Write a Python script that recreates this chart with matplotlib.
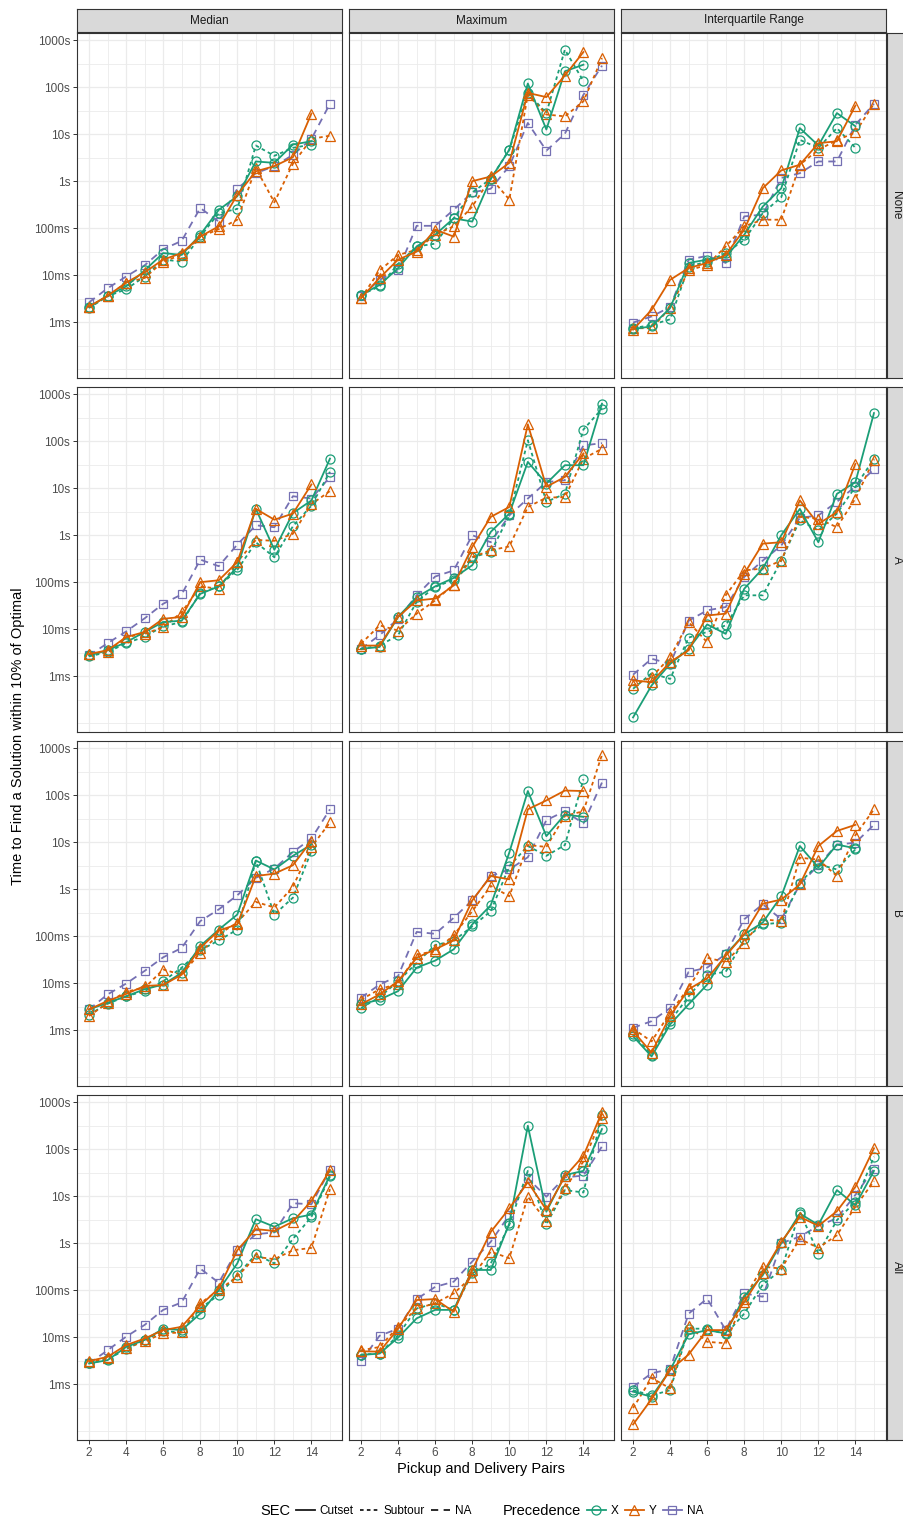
import numpy as np
import matplotlib
matplotlib.use('Agg')
import matplotlib.pyplot as plt
from matplotlib.lines import Line2D
from matplotlib.ticker import FixedLocator, NullFormatter

plt.rcParams['font.family'] = ['Liberation Sans', 'DejaVu Sans']

nan = np.nan

# x axis: number of pickup and delivery pairs
pairs = list(range(2, 16))
stats = ['Median', 'Maximum', 'Interquartile Range']
pruning = ['None', 'A', 'B', 'All']
y_tick_values = [1e-3, 1e-2, 1e-1, 1, 10, 100, 1000]
y_tick_labels = ['1ms', '10ms', '100ms', '1s', '10s', '100s', '1000s']
x_tick_values = [2, 4, 6, 8, 10, 12, 14]

# values are log10(seconds), x = 2..15
# SEC / Precedence: cut_x = Cutset/X, sub_x = Subtour/X, cut_y = Cutset/Y,
# sub_y = Subtour/Y, na = NA/NA

# --- pruning None ---
none_med_cut_x = [-2.68, -2.44, -2.24, -1.9, -1.53, -1.57, -1.14, -0.61, -0.32, 0.42, 0.39, 0.78, 0.85, nan]
none_med_sub_x = [-2.7, -2.45, -2.3, -2.03, -1.67, -1.71, -1.18, -0.68, -0.59, 0.76, 0.54, 0.71, 0.78, nan]
none_med_cut_y = [-2.67, -2.44, -2.16, -1.94, -1.67, -1.53, -1.18, -0.96, -0.29, 0.21, 0.32, 0.51, 1.44, nan]
none_med_sub_y = [-2.67, -2.45, -2.16, -2.06, -1.71, -1.57, -1.19, -1.02, -0.82, 0.28, -0.45, 0.37, 0.9, 0.97]
none_med_na = [-2.58, -2.28, -2.03, -1.79, -1.45, -1.27, -0.57, -0.86, -0.16, 0.17, 0.32, 0.56, 0.9, 1.65]

none_max_cut_x = [-2.42, -2.21, -1.85, -1.39, -1.14, -0.79, -0.86, 0.05, 0.67, 2.08, 1.1, 2.34, 2.48, nan]
none_max_sub_x = [-2.42, -2.24, -1.76, -1.39, -1.33, -0.79, -0.24, 0.05, 0.67, 1.88, 1.45, 2.8, 2.13, nan]
none_max_cut_y = [-2.49, -2.06, -1.67, -1.5, -1.03, -1.18, 0.0, 0.1, 0.39, 1.88, 1.79, 2.25, 2.75, nan]
none_max_sub_y = [-2.49, -1.9, -1.57, -1.46, -1.14, -0.96, -0.54, 0.07, -0.39, 1.84, 1.42, 1.38, 1.7, 2.62]
none_max_na = [-2.45, -2.1, -1.9, -0.95, -0.95, -0.61, -0.24, -0.16, 0.32, 1.24, 0.65, 1.01, 1.84, 2.46]

none_iqr_cut_x = [-3.15, -3.09, -2.7, -1.74, -1.67, -1.62, -1.14, -0.54, -0.15, 1.13, 0.76, 1.45, 1.17, nan]
none_iqr_sub_x = [-3.13, -3.06, -2.94, -1.82, -1.71, -1.53, -1.25, -0.68, -0.34, 0.88, 0.71, 1.13, 0.71, nan]
none_iqr_cut_y = [-3.16, -2.74, -2.1, -1.85, -1.74, -1.57, -1.03, -0.15, 0.23, 0.35, 0.81, 0.85, 1.61, nan]
none_iqr_sub_y = [-3.13, -3.13, -2.7, -1.9, -1.78, -1.39, -0.96, -0.82, -0.82, 0.35, 0.67, 0.87, 1.04, 1.65]
none_iqr_na = [-3.01, -2.88, -2.68, -1.67, -1.59, -1.74, -0.75, -0.71, 0.07, 0.17, 0.42, 0.42, 1.2, 1.65]

# --- pruning A ---
a_med_cut_x = [-2.56, -2.45, -2.28, -2.06, -1.85, -1.82, -1.25, -1.09, -0.68, 0.56, -0.31, 0.47, 0.74, 1.63]
a_med_sub_x = [-2.58, -2.49, -2.3, -2.16, -1.94, -1.85, -1.23, -1.09, -0.74, -0.15, -0.47, 0.19, 0.63, 1.35]
a_med_cut_y = [-2.53, -2.45, -2.17, -2.06, -1.78, -1.74, -1.0, -0.96, -0.57, 0.56, 0.33, 0.46, 1.08, nan]
a_med_sub_y = [-2.53, -2.49, -2.17, -2.1, -1.96, -1.64, -1.09, -1.14, -0.57, -0.1, -0.12, 0.03, 0.66, 0.94]
a_med_na = [-2.56, -2.3, -2.05, -1.77, -1.46, -1.26, -0.52, -0.66, -0.2, 0.21, 0.17, 0.83, 0.78, 1.24]

a_max_cut_x = [-2.42, -2.38, -1.74, -1.32, -1.09, -0.91, -0.64, 0.07, 0.46, 1.56, 1.1, 1.49, 1.49, 2.8]
a_max_sub_x = [-2.42, -2.35, -2.13, -1.42, -1.1, -0.95, -0.47, -0.36, 0.42, 2.02, 0.71, 0.88, 2.25, 2.69]
a_max_cut_y = [-2.35, -2.35, -1.74, -1.39, -1.35, -1.07, -0.25, 0.39, 0.6, 2.36, 1.03, 1.24, 1.74, nan]
a_max_sub_y = [-2.31, -1.92, -2.03, -1.67, -1.39, -1.05, -0.47, -0.32, -0.24, 0.6, 0.8, 0.81, 1.63, 1.84]
a_max_na = [-2.42, -2.13, -1.78, -1.28, -0.88, -0.75, 0.0, -0.15, 0.42, 0.78, 1.13, 1.17, 1.91, 1.96]

a_iqr_cut_x = [-3.88, -3.2, -2.74, -2.42, -1.9, -2.1, -1.14, -0.71, 0.0, 0.56, -0.15, 0.88, 1.13, 2.6]
a_iqr_sub_x = [-3.27, -2.94, -3.06, -2.18, -2.06, -1.92, -1.28, -1.28, -0.54, 0.32, 0.1, 0.46, 1.03, 1.63]
a_iqr_cut_y = [-3.09, -3.13, -2.7, -2.45, -1.71, -1.67, -0.82, -0.18, -0.15, 0.74, 0.24, 0.49, 1.52, nan]
a_iqr_sub_y = [-3.2, -3.02, -2.6, -1.85, -2.28, -1.28, -0.75, -0.71, -0.54, 0.39, 0.35, 0.17, 0.78, 1.61]
a_iqr_na = [-2.97, -2.63, -2.74, -1.82, -1.6, -1.53, -0.89, -0.54, -0.22, 0.37, 0.42, 0.71, 1.04, 1.4]

# --- pruning B ---
b_med_cut_x = [-2.56, -2.42, -2.28, -2.13, -2.03, -1.78, -1.21, -0.86, -0.54, 0.61, 0.42, 0.71, 0.95, nan]
b_med_sub_x = [-2.67, -2.44, -2.28, -2.17, -1.96, -1.67, -1.3, -1.09, -0.86, 0.6, -0.54, -0.18, 0.81, nan]
b_med_cut_y = [-2.56, -2.38, -2.23, -2.06, -2.04, -1.82, -1.25, -0.88, -0.75, 0.28, 0.33, 0.51, 1.03, nan]
b_med_sub_y = [-2.7, -2.42, -2.18, -2.1, -1.71, -1.82, -1.35, -0.96, -0.71, -0.27, -0.39, 0.05, 0.9, 1.42]
b_med_na = [-2.56, -2.24, -2.01, -1.74, -1.45, -1.25, -0.68, -0.43, -0.13, 0.24, 0.44, 0.79, 1.08, 1.7]

b_max_cut_x = [-2.45, -2.35, -2.17, -1.67, -1.52, -1.28, -0.75, -0.34, 0.78, 2.09, 1.13, 1.59, 1.54, nan]
b_max_sub_x = [-2.53, -2.3, -1.96, -1.57, -1.19, -1.1, -0.79, -0.47, 0.49, 0.92, 0.71, 0.94, 2.34, nan]
b_max_cut_y = [-2.45, -2.24, -1.96, -1.46, -1.28, -1.09, -0.24, 0.28, 0.21, 1.7, 1.89, 2.1, 2.09, nan]
b_max_sub_y = [-2.35, -2.13, -2.01, -1.39, -1.32, -0.98, -0.47, 0.07, -0.15, 0.94, 0.9, 1.56, 1.66, 2.86]
b_max_na = [-2.31, -2.03, -1.85, -0.91, -0.95, -0.61, -0.24, 0.28, 0.42, 0.68, 1.47, 1.66, 1.4, 2.27]

b_iqr_cut_x = [-3.13, -3.56, -2.88, -2.45, -2.03, -1.39, -0.96, -0.71, -0.15, 0.92, 0.46, 0.95, 0.87, nan]
b_iqr_sub_x = [-3.09, -3.52, -2.81, -2.28, -1.82, -1.76, -1.07, -0.75, -0.71, 0.14, 0.53, 0.42, 0.85, nan]
b_iqr_cut_y = [-3.02, -3.48, -2.7, -2.13, -1.9, -1.42, -0.96, -0.31, -0.22, 0.1, 0.92, 1.24, 1.37, nan]
b_iqr_sub_y = [-2.97, -3.24, -2.63, -2.1, -1.46, -1.55, -1.14, -0.64, -0.68, 0.67, 0.63, 0.28, 1.15, 1.7]
b_iqr_na = [-2.95, -2.81, -2.53, -1.76, -1.67, -1.38, -0.64, -0.32, -0.64, 0.1, 0.51, 0.95, 0.99, 1.37]

# --- pruning All ---
all_med_cut_x = [-2.56, -2.49, -2.21, -2.06, -1.82, -1.85, -1.5, -1.0, -0.43, 0.51, 0.35, 0.53, 0.61, 1.45]
all_med_sub_x = [-2.56, -2.47, -2.26, -2.06, -1.87, -1.9, -1.39, -1.1, -0.68, -0.24, -0.43, 0.09, 0.56, 1.42]
all_med_cut_y = [-2.51, -2.42, -2.17, -2.03, -1.85, -1.78, -1.33, -0.96, -0.15, 0.3, 0.26, 0.46, 0.9, 1.56]
all_med_sub_y = [-2.53, -2.45, -2.23, -2.09, -1.92, -1.9, -1.28, -1.0, -0.71, -0.29, -0.34, -0.15, -0.1, 1.15]
all_med_na = [-2.56, -2.28, -1.99, -1.74, -1.42, -1.26, -0.54, -0.84, -0.15, 0.19, 0.23, 0.85, 0.83, 1.56]

all_max_cut_x = [-2.38, -2.35, -2.01, -1.6, -1.42, -1.42, -0.57, -0.57, 0.42, 2.5, 0.67, 1.45, 1.54, 2.43]
all_max_sub_x = [-2.37, -2.35, -1.96, -1.39, -1.28, -1.42, -0.64, -0.43, 0.39, 1.54, 0.4, 1.13, 1.08, 2.73]
all_max_cut_y = [-2.3, -2.31, -1.82, -1.21, -1.19, -1.46, -0.57, 0.24, 0.74, 1.3, 0.71, 1.42, 1.86, 2.79]
all_max_sub_y = [-2.28, -2.21, -1.78, -1.39, -1.28, -1.07, -0.71, -0.18, -0.32, 0.99, 0.47, 1.17, 1.74, 2.67]
all_max_na = [-2.51, -1.97, -1.82, -1.19, -0.93, -0.82, -0.39, 0.03, 0.6, 1.38, 0.99, 1.4, 1.44, 2.06]

all_iqr_cut_x = [-3.16, -3.27, -2.7, -1.94, -1.85, -1.92, -1.14, -0.68, 0.0, 0.63, 0.39, 1.13, 0.81, 1.54]
all_iqr_sub_x = [-3.13, -3.24, -3.13, -1.82, -1.82, -1.94, -1.5, -0.88, -0.57, 0.67, -0.22, 0.49, 0.88, 1.84]
all_iqr_cut_y = [-3.86, -3.32, -2.7, -2.37, -1.85, -1.85, -1.25, -0.64, 0.03, 0.56, 0.37, 0.68, 1.2, 2.02]
all_iqr_sub_y = [-3.51, -2.87, -3.09, -1.76, -2.1, -2.13, -1.18, -0.5, -0.54, 0.09, -0.1, 0.17, 0.78, 1.32]
all_iqr_na = [-3.06, -2.77, -2.68, -1.5, -1.18, -1.85, -1.07, -1.14, 0.0, 0.14, 0.37, 0.53, 1.03, 1.58]

# panel table: (pruning, stat) -> series in draw order
panels = {
    ('None', 'Median'): [none_med_na, none_med_sub_x, none_med_sub_y, none_med_cut_x, none_med_cut_y],
    ('None', 'Maximum'): [none_max_na, none_max_sub_x, none_max_sub_y, none_max_cut_x, none_max_cut_y],
    ('None', 'Interquartile Range'): [none_iqr_na, none_iqr_sub_x, none_iqr_sub_y, none_iqr_cut_x, none_iqr_cut_y],
    ('A', 'Median'): [a_med_na, a_med_sub_x, a_med_sub_y, a_med_cut_x, a_med_cut_y],
    ('A', 'Maximum'): [a_max_na, a_max_sub_x, a_max_sub_y, a_max_cut_x, a_max_cut_y],
    ('A', 'Interquartile Range'): [a_iqr_na, a_iqr_sub_x, a_iqr_sub_y, a_iqr_cut_x, a_iqr_cut_y],
    ('B', 'Median'): [b_med_na, b_med_sub_x, b_med_sub_y, b_med_cut_x, b_med_cut_y],
    ('B', 'Maximum'): [b_max_na, b_max_sub_x, b_max_sub_y, b_max_cut_x, b_max_cut_y],
    ('B', 'Interquartile Range'): [b_iqr_na, b_iqr_sub_x, b_iqr_sub_y, b_iqr_cut_x, b_iqr_cut_y],
    ('All', 'Median'): [all_med_na, all_med_sub_x, all_med_sub_y, all_med_cut_x, all_med_cut_y],
    ('All', 'Maximum'): [all_max_na, all_max_sub_x, all_max_sub_y, all_max_cut_x, all_max_cut_y],
    ('All', 'Interquartile Range'): [all_iqr_na, all_iqr_sub_x, all_iqr_sub_y, all_iqr_cut_x, all_iqr_cut_y],
}

GREEN, ORANGE, PURPLE = '#1B9E77', '#D95F02', '#7570B3'
DOTTED = (0, (2.0, 1.8))
DASHED = (0, (4.0, 3.0))
MSIZE = {'o': 6.5, '^': 7.5, 's': 6.0}

# same order as the lists in `panels`
styles = [
    dict(color=PURPLE, ls=DASHED, marker='s'),
    dict(color=GREEN, ls=DOTTED, marker='o'),
    dict(color=ORANGE, ls=DOTTED, marker='^'),
    dict(color=GREEN, ls='-', marker='o'),
    dict(color=ORANGE, ls='-', marker='^'),
]

W, H = 904, 1524
fig = plt.figure(figsize=(W / 100, H / 100), dpi=100)


def rect(left, top, width, height):
    return [left / W, 1 - (top + height) / H, width / W, height / H]


col_left = [77, 349, 621]
row_top = [33, 387, 741, 1095]
pw, ph = 265, 345
BORDER = '#333333'

for r, prune in enumerate(pruning):
    for c, stat in enumerate(stats):
        ax = fig.add_axes(rect(col_left[c], row_top[r], pw, ph))
        ax.set_yscale('log')
        for vals, st in zip(panels[(prune, stat)], styles):
            ax.plot(pairs, 10 ** np.array(vals), color=st['color'], ls=st['ls'],
                    lw=1.3, marker=st['marker'], ms=MSIZE[st['marker']],
                    mfc='none', mec=st['color'], mew=0.9, dash_capstyle='butt')
        ax.set_xlim(1.35, 15.65)
        ax.set_ylim(10 ** -4.19, 10 ** 3.155)

        ax.xaxis.set_major_locator(FixedLocator(x_tick_values))
        ax.xaxis.set_minor_locator(FixedLocator(list(range(3, 16, 2))))
        ax.yaxis.set_major_locator(FixedLocator(y_tick_values))
        ax.yaxis.set_minor_locator(FixedLocator([10 ** (k + 0.5) for k in range(-5, 4)] + [1e-4]))
        ax.yaxis.set_minor_formatter(NullFormatter())
        ax.set_yticklabels(y_tick_labels)
        ax.grid(which='major', color='#EBEBEB', lw=0.9)
        ax.grid(which='minor', color='#EBEBEB', lw=0.6)
        ax.set_axisbelow(True)
        ax.tick_params(which='minor', length=0)
        ax.tick_params(which='major', length=3, width=0.7, color=BORDER,
                       labelsize=8.5, labelcolor='#4D4D4D', pad=2)
        ax.tick_params(left=(c == 0), labelleft=(c == 0),
                       bottom=(r == 3), labelbottom=(r == 3))
        for sp in ax.spines.values():
            sp.set_color(BORDER)
            sp.set_linewidth(0.8)

# facet strips
for c, stat in enumerate(stats):
    sax = fig.add_axes(rect(col_left[c], 9, pw, 23))
    sax.set_facecolor('#D9D9D9')
    sax.set_xticks([])
    sax.set_yticks([])
    for sp in sax.spines.values():
        sp.set_color(BORDER)
        sp.set_linewidth(0.8)
    sax.text(0.5, 0.5, stat, ha='center', va='center', fontsize=8.5,
             color='#1A1A1A', transform=sax.transAxes)

for r, prune in enumerate(pruning):
    sax = fig.add_axes(rect(887, row_top[r], 19, ph))
    sax.set_facecolor('#D9D9D9')
    sax.set_xticks([])
    sax.set_yticks([])
    for sp in sax.spines.values():
        sp.set_color(BORDER)
        sp.set_linewidth(0.8)
    sax.text(0.5, 0.5, prune, ha='center', va='center', fontsize=8.5,
             rotation=-90, color='#1A1A1A', transform=sax.transAxes)

# axis titles
fig.text(18 / W, 1 - 736 / H, 'Time to Find a Solution within 10% of Optimal',
         rotation=90, ha='center', va='center', fontsize=10.5)
fig.text(481 / W, 1 - 1469 / H, 'Pickup and Delivery Pairs',
         ha='center', va='center', fontsize=10.5)

# legends
ly = 1 - 1511 / H
fig.text(260 / W, ly, 'SEC', ha='left', va='center', fontsize=10.5)
sec_handles = [Line2D([], [], color='#1A1A1A', lw=1.3, ls=ls, dash_capstyle='butt')
               for ls in ['-', DOTTED, DASHED]]
fig.legend(sec_handles, ['Cutset', 'Subtour', 'NA'], loc='center left',
           bbox_to_anchor=(296 / W, ly), ncol=3, frameon=False, fontsize=8.5,
           handlelength=1.6, handletextpad=0.4, columnspacing=0.55,
           borderpad=0, borderaxespad=0)

fig.text(503 / W, ly, 'Precedence', ha='left', va='center', fontsize=10.5)
prec_handles = [Line2D([], [], color=col, lw=1.3, marker=m, ms=MSIZE[m],
                       mfc='none', mec=col, mew=0.9)
                for col, m in [(GREEN, 'o'), (ORANGE, '^'), (PURPLE, 's')]]
fig.legend(prec_handles, ['X', 'Y', 'NA'], loc='center left',
           bbox_to_anchor=(587 / W, ly), ncol=3, frameon=False, fontsize=8.5,
           handlelength=1.6, handletextpad=0.4, columnspacing=0.55,
           borderpad=0, borderaxespad=0)

fig.savefig('out.png', dpi=100)
